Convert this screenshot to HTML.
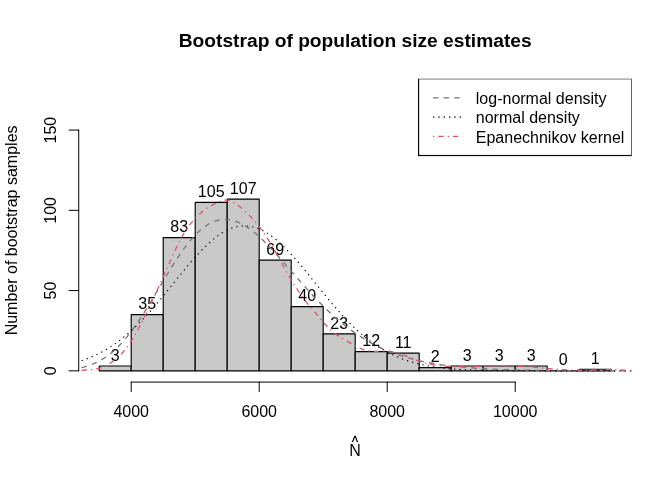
<!DOCTYPE html>
<html><head><meta charset="utf-8"><title>Bootstrap</title>
<style>
html,body{margin:0;padding:0;background:#fff;}
svg{display:block;will-change:transform;}
text{font-family:"Liberation Sans",sans-serif;fill:#000;}
</style></head><body>
<svg width="672" height="480" viewBox="0 0 672 480">
<rect width="672" height="480" fill="#fff"/>
<defs><clipPath id="pr"><rect x="78.72" y="78.72" width="552.96" height="303.36"/></clipPath></defs>
<text x="355.2" y="46.8" font-size="19.2" font-weight="bold" text-anchor="middle">Bootstrap of population size estimates</text>
<g fill="#C9C9C9" stroke="#000" stroke-width="1.15" stroke-linejoin="round">
<rect x="99.20" y="366.03" width="32.00" height="4.82"/>
<rect x="131.20" y="314.67" width="32.00" height="56.18"/>
<rect x="163.20" y="237.62" width="32.00" height="133.22"/>
<rect x="195.20" y="202.31" width="32.00" height="168.53"/>
<rect x="227.20" y="199.10" width="32.00" height="171.74"/>
<rect x="259.20" y="260.09" width="32.00" height="110.75"/>
<rect x="291.20" y="306.64" width="32.00" height="64.20"/>
<rect x="323.20" y="333.93" width="32.00" height="36.92"/>
<rect x="355.20" y="351.58" width="32.00" height="19.26"/>
<rect x="387.20" y="353.19" width="32.00" height="17.66"/>
<rect x="419.20" y="367.63" width="32.00" height="3.21"/>
<rect x="451.20" y="366.03" width="32.00" height="4.82"/>
<rect x="483.20" y="366.03" width="32.00" height="4.82"/>
<rect x="515.20" y="366.03" width="32.00" height="4.82"/>
<path d="M547.20 370.84h32.00"/>
<rect x="579.20" y="369.24" width="32.00" height="1.61"/>
</g>
<g font-size="16" text-anchor="middle">
<text x="115.20" y="360.63">3</text>
<text x="147.20" y="309.27">35</text>
<text x="179.20" y="232.22">83</text>
<text x="211.20" y="196.91">105</text>
<text x="243.20" y="193.70">107</text>
<text x="275.20" y="254.69">69</text>
<text x="307.20" y="301.24">40</text>
<text x="339.20" y="328.53">23</text>
<text x="371.20" y="346.18">12</text>
<text x="403.20" y="347.79">11</text>
<text x="435.20" y="362.23">2</text>
<text x="467.20" y="360.63">3</text>
<text x="499.20" y="360.63">3</text>
<text x="531.20" y="360.63">3</text>
<text x="563.20" y="365.44">0</text>
<text x="595.20" y="363.84">1</text>
</g>
<g stroke="#000" stroke-width="1" fill="none" stroke-linecap="round">
<path d="M131.20 382.08H515.20"/>
<path d="M131.20 382.08v9.6"/>
<path d="M259.20 382.08v9.6"/>
<path d="M387.20 382.08v9.6"/>
<path d="M515.20 382.08v9.6"/>
<path d="M78.72 370.84V130.08"/>
<path d="M78.72 370.84h-9.6"/>
<path d="M78.72 290.59h-9.6"/>
<path d="M78.72 210.34h-9.6"/>
<path d="M78.72 130.08h-9.6"/>
</g>
<g font-size="16" text-anchor="middle">
<text x="131.20" y="416.8">4000</text>
<text x="259.20" y="416.8">6000</text>
<text x="387.20" y="416.8">8000</text>
<text x="515.20" y="416.8">10000</text>
<text transform="translate(55.6 370.84) rotate(-90)">0</text>
<text transform="translate(55.6 290.59) rotate(-90)">50</text>
<text transform="translate(55.6 210.34) rotate(-90)">100</text>
<text transform="translate(55.6 130.08) rotate(-90)">150</text>
<text transform="translate(17.2 230.4) rotate(-90)">Number of bootstrap samples</text>
<text x="355.0" y="455.6">N</text>
<path d="M351.85 442.1L354.3 435.7H355.7L358.15 442.1H356.8L355 437.2L353.2 442.1Z" fill="#000"/>
</g>
<g clip-path="url(#pr)" fill="none" stroke-width="1.3">
<path id="ln" d="M81.60 367.62L84.80 366.82L88.00 365.87L91.20 364.76L94.40 363.46L97.60 361.97L100.80 360.25L104.00 358.31L107.20 356.13L110.40 353.70L113.60 351.00L116.80 348.04L120.00 344.82L123.20 341.32L126.40 337.57L129.60 333.56L132.80 329.31L136.00 324.83L139.20 320.14L142.40 315.27L145.60 310.23L148.80 305.06L152.00 299.78L155.20 294.43L158.40 289.04L161.60 283.64L164.80 278.28L168.00 272.97L171.20 267.77L174.40 262.69L177.60 257.78L180.80 253.07L184.00 248.59L187.20 244.36L190.40 240.40L193.60 236.74L196.80 233.41L200.00 230.41L203.20 227.75L206.40 225.46L209.60 223.53L212.80 221.97L216.00 220.78L219.20 219.96L222.40 219.50L225.60 219.41L228.80 219.66L232.00 220.25L235.20 221.16L238.40 222.38L241.60 223.90L244.80 225.70L248.00 227.75L251.20 230.05L254.40 232.56L257.60 235.28L260.80 238.18L264.00 241.24L267.20 244.44L270.40 247.76L273.60 251.19L276.80 254.70L280.00 258.28L283.20 261.91L286.40 265.58L289.60 269.26L292.80 272.95L296.00 276.63L299.20 280.30L302.40 283.93L305.60 287.51L308.80 291.05L312.00 294.53L315.20 297.94L318.40 301.28L321.60 304.53L324.80 307.70L328.00 310.79L331.20 313.78L334.40 316.68L337.60 319.48L340.80 322.18L344.00 324.78L347.20 327.29L350.40 329.69L353.60 331.99L356.80 334.20L360.00 336.31L363.20 338.33L366.40 340.25L369.60 342.08L372.80 343.82L376.00 345.48L379.20 347.05L382.40 348.54L385.60 349.95L388.80 351.28L392.00 352.55L395.20 353.74L398.40 354.86L401.60 355.92L404.80 356.92L408.00 357.86L411.20 358.74L414.40 359.57L417.60 360.35L420.80 361.07L424.00 361.76L427.20 362.40L430.40 363.00L433.60 363.56L436.80 364.08L440.00 364.57L443.20 365.03L446.40 365.45L449.60 365.85L452.80 366.22L456.00 366.56L459.20 366.88L462.40 367.18L465.60 367.45L468.80 367.71L472.00 367.95L475.20 368.17L478.40 368.38L481.60 368.57L484.80 368.74L488.00 368.91L491.20 369.06L494.40 369.20L497.60 369.33L500.80 369.45L504.00 369.56L507.20 369.66L510.40 369.75L513.60 369.84L516.80 369.92L520.00 370.00L523.20 370.07L526.40 370.13L529.60 370.19L532.80 370.24L536.00 370.29L539.20 370.33L542.40 370.38L545.60 370.42L548.80 370.45L552.00 370.48L555.20 370.51L558.40 370.54L561.60 370.57L564.80 370.59L568.00 370.61L571.20 370.63L574.40 370.65L577.60 370.66L580.80 370.68L584.00 370.69L587.20 370.71L590.40 370.72L593.60 370.73L596.80 370.74L600.00 370.75L603.20 370.76L606.40 370.76L609.60 370.77L612.80 370.78L616.00 370.78L619.20 370.79L622.40 370.79L625.60 370.80L628.80 370.80L632.00 370.80L635.20 370.81L638.40 370.81L641.60 370.81" stroke="#757575" stroke-dasharray="5.33 5.33"/>
<path id="nm" d="M81.60 360.67L84.80 359.56L88.00 358.36L91.20 357.06L94.40 355.65L97.60 354.13L100.80 352.50L104.00 350.75L107.20 348.88L110.40 346.89L113.60 344.76L116.80 342.51L120.00 340.13L123.20 337.61L126.40 334.96L129.60 332.18L132.80 329.27L136.00 326.23L139.20 323.06L142.40 319.78L145.60 316.38L148.80 312.88L152.00 309.27L155.20 305.58L158.40 301.81L161.60 297.97L164.80 294.07L168.00 290.13L171.20 286.16L174.40 282.18L177.60 278.20L180.80 274.24L184.00 270.32L187.20 266.45L190.40 262.66L193.60 258.96L196.80 255.37L200.00 251.91L203.20 248.59L206.40 245.44L209.60 242.48L212.80 239.71L216.00 237.15L219.20 234.83L222.40 232.75L225.60 230.93L228.80 229.37L232.00 228.09L235.20 227.09L238.40 226.38L241.60 225.96L244.80 225.84L248.00 226.02L251.20 226.50L254.40 227.26L257.60 228.32L260.80 229.66L264.00 231.27L267.20 233.15L270.40 235.28L273.60 237.65L276.80 240.24L280.00 243.05L283.20 246.06L286.40 249.24L289.60 252.59L292.80 256.08L296.00 259.69L299.20 263.41L302.40 267.22L305.60 271.10L308.80 275.03L312.00 278.99L315.20 282.97L318.40 286.96L321.60 290.92L324.80 294.85L328.00 298.74L331.20 302.57L334.40 306.33L337.60 310.00L340.80 313.59L344.00 317.07L347.20 320.44L350.40 323.70L353.60 326.84L356.80 329.86L360.00 332.74L363.20 335.50L366.40 338.12L369.60 340.61L372.80 342.97L376.00 345.20L379.20 347.30L382.40 349.27L385.60 351.11L388.80 352.84L392.00 354.45L395.20 355.94L398.40 357.33L401.60 358.61L404.80 359.79L408.00 360.88L411.20 361.88L414.40 362.80L417.60 363.64L420.80 364.40L424.00 365.10L427.20 365.73L430.40 366.30L433.60 366.81L436.80 367.27L440.00 367.69L443.20 368.07L446.40 368.40L449.60 368.70L452.80 368.97L456.00 369.20L459.20 369.41L462.40 369.60L465.60 369.76L468.80 369.91L472.00 370.03L475.20 370.14L478.40 370.24L481.60 370.32L484.80 370.40L488.00 370.46L491.20 370.52L494.40 370.57L497.60 370.61L500.80 370.64L504.00 370.67L507.20 370.70L510.40 370.72L513.60 370.74L516.80 370.76L520.00 370.77L523.20 370.78L526.40 370.79L529.60 370.80L532.80 370.81L536.00 370.81L539.20 370.82L542.40 370.82L545.60 370.83L548.80 370.83L552.00 370.83L555.20 370.83L558.40 370.84L561.60 370.84L564.80 370.84L568.00 370.84L571.20 370.84L574.40 370.84L577.60 370.84L580.80 370.84L584.00 370.84L587.20 370.84L590.40 370.84L593.60 370.84L596.80 370.84L600.00 370.84L603.20 370.84L606.40 370.84L609.60 370.84L612.80 370.84L616.00 370.84L619.20 370.84L622.40 370.84L625.60 370.84L628.80 370.84L632.00 370.84L635.20 370.84L638.40 370.84L641.60 370.84" stroke="#000" stroke-width="1.1" stroke-dasharray="1.33 4"/>
<path id="ep" d="M81.6 370.5L83.6 370.2L85.6 370.0L87.6 369.8L89.6 369.7L91.6 369.6L93.6 369.4L95.6 369.1L97.6 368.7L99.6 368.3L101.6 367.6L103.6 366.9L105.6 365.9L107.6 364.8L109.6 363.6L111.6 362.3L113.6 360.8L115.6 359.3L117.6 357.6L119.6 355.7L121.6 353.7L123.6 351.5L125.6 349.1L127.6 346.5L129.6 343.6L131.6 340.6L133.6 337.3L135.6 333.8L137.6 330.2L139.6 326.4L141.6 322.6L143.6 318.7L145.6 314.6L147.6 310.5L149.6 306.4L151.6 302.2L153.6 297.9L155.6 293.6L157.6 289.2L159.6 284.8L161.6 280.4L163.6 275.9L165.6 271.4L167.6 267.0L169.6 262.5L171.6 258.0L173.6 253.6L175.6 249.4L177.6 245.2L179.6 241.2L181.6 237.5L183.6 234.0L185.6 230.7L187.6 227.7L189.6 224.9L191.6 222.3L193.6 219.9L195.6 217.7L197.6 215.7L199.6 213.9L201.6 212.2L203.6 210.6L205.6 209.2L207.6 207.8L209.6 206.6L211.6 205.4L213.6 204.3L215.6 203.3L217.6 202.3L219.6 201.5L221.6 200.8L223.6 200.3L225.6 200.1L227.6 200.2L229.6 200.6L231.6 201.4L233.6 202.4L235.6 203.6L237.6 205.0L239.6 206.5L241.6 208.2L243.6 209.9L245.6 211.7L247.6 213.6L249.6 215.6L251.6 217.7L253.6 219.9L255.6 222.2L257.6 224.7L259.6 227.2L261.6 229.9L263.6 232.7L265.6 235.6L267.6 238.6L269.6 241.8L271.6 245.2L273.6 248.6L275.6 252.1L277.6 255.7L279.6 259.3L281.6 262.9L283.6 266.5L285.6 270.1L287.6 273.6L289.6 277.1L291.6 280.5L293.6 283.8L295.6 287.0L297.6 290.0L299.6 293.0L301.6 295.8L303.6 298.5L305.6 301.1L307.6 303.6L309.6 306.1L311.6 308.4L313.6 310.8L315.6 313.1L317.6 315.4L319.6 317.7L321.6 320.1L323.6 322.4L325.6 324.7L327.6 326.9L329.6 329.0L331.6 330.8L333.6 332.5L335.6 334.0L337.6 335.4L339.6 336.7L341.6 337.9L343.6 339.1L345.6 340.2L347.6 341.4L349.6 342.6L351.6 343.7L353.6 344.9L355.6 346.0L357.6 347.0L359.6 348.0L361.6 348.9L363.6 349.6L365.6 350.2L367.6 350.7L369.6 351.0L371.6 351.2L373.6 351.3L375.6 351.3L377.6 351.3L379.6 351.2L381.6 351.2L383.6 351.1L385.6 351.1L387.6 351.2L389.6 351.4L391.6 351.7L393.6 352.1L395.6 352.5L397.6 353.1L399.6 353.7L401.6 354.4L403.6 355.2L405.6 355.9L407.6 356.7L409.6 357.5L411.6 358.3L413.6 359.1L415.6 359.9L417.6 360.6L419.6 361.3L421.6 361.9L423.6 362.5L425.6 363.1L427.6 363.6L429.6 364.0L431.6 364.4L433.6 364.8L435.6 365.1L437.6 365.4L439.6 365.6L441.6 365.9L443.6 366.0L445.6 366.2L447.6 366.3L449.6 366.4L451.6 366.5L453.6 366.5L455.6 366.6L457.6 366.6L459.6 366.6L461.6 366.6L463.6 366.6L465.6 366.5L467.6 366.5L469.6 366.4L471.6 366.4L473.6 366.3L475.6 366.3L477.6 366.2L479.6 366.1L481.6 366.1L483.6 366.0L485.6 366.0L487.6 365.9L489.6 365.9L491.6 365.9L493.6 365.8L495.6 365.8L497.6 365.8L499.6 365.8L501.6 365.8L503.6 365.8L505.6 365.8L507.6 365.9L509.6 365.9L511.6 365.9L513.6 366.0L515.6 366.1L517.6 366.2L519.6 366.3L521.6 366.4L523.6 366.5L525.6 366.6L527.6 366.8L529.6 366.9L531.6 367.1L533.6 367.2L535.6 367.4L537.6 367.6L539.6 367.7L541.6 367.9L543.6 368.1L545.6 368.3L547.6 368.5L549.6 368.6L551.6 368.8L553.6 369.0L555.6 369.1L557.6 369.3L559.6 369.4L561.6 369.6L563.6 369.7L565.6 369.8L567.6 369.9L569.6 370.0L571.6 370.1L573.6 370.1L575.6 370.2L577.6 370.2L579.6 370.2L581.6 370.2L583.6 370.2L585.6 370.1L587.6 370.1L589.6 370.1L591.6 370.0L593.6 370.0L595.6 369.9L597.6 369.9L599.6 369.8L601.6 369.8L603.6 369.7L605.6 369.7L607.6 369.7L609.6 369.7L611.6 369.7L613.6 369.7L615.6 369.7L617.6 369.8L619.6 369.9L621.6 370.0L623.6 370.1L625.6 370.3L627.6 370.4L629.6 370.7L631.6 370.8" stroke="#DF536B" stroke-dasharray="1.33 4 5.33 4" stroke-dashoffset="5.33"/>
</g>
<rect clip-path="url(#pr)" x="418.6" y="78.72" width="213.08" height="76.8" fill="#fff" stroke="#000" stroke-width="1.15"/>
<g fill="none" stroke-width="1.15">
<path d="M433 97.92H461.8" stroke="#757575" stroke-dasharray="5.33 5.33"/>
<path d="M433 117.12H461.8" stroke="#000" stroke-dasharray="1.33 4"/>
<path d="M433 136.32H461.8" stroke="#DF536B" stroke-dasharray="1.33 4 5.33 4"/>
</g>
<g font-size="16">
<text x="475.8" y="104.20">log-normal density</text>
<text x="475.8" y="123.40">normal density</text>
<text x="475.8" y="142.60">Epanechnikov kernel</text>
</g>
</svg></body></html>
